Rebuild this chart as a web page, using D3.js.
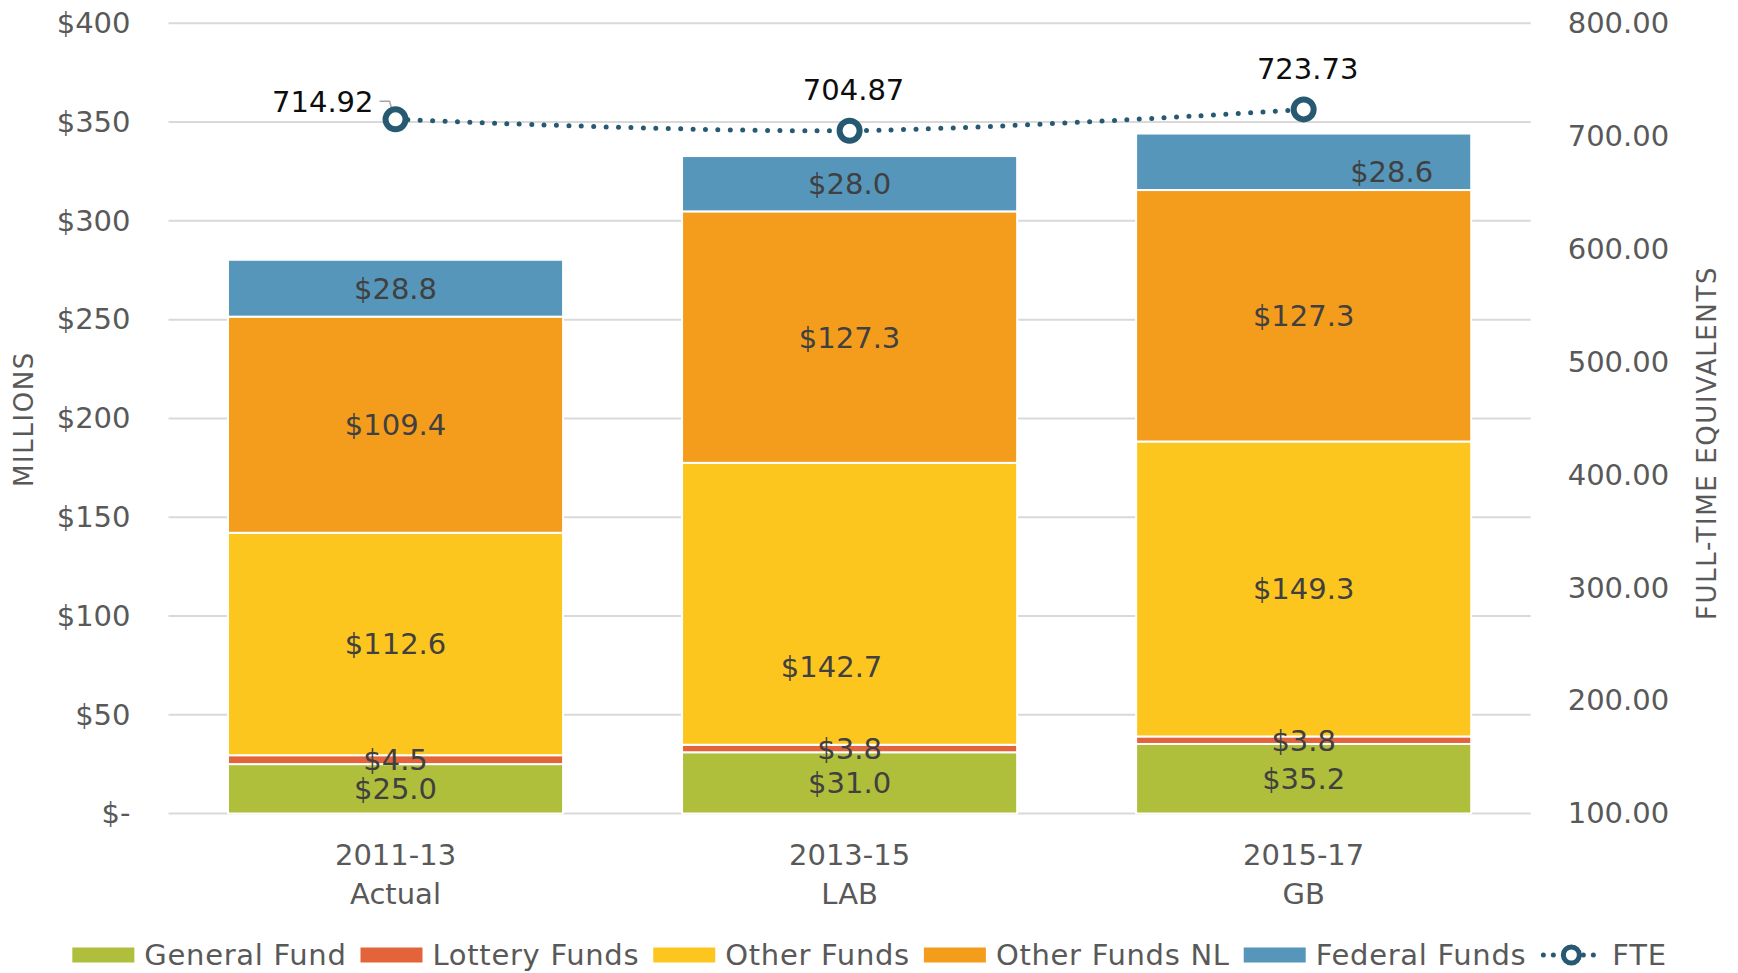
<!DOCTYPE html>
<html>
<head>
<meta charset="utf-8">
<script src="https://cdn.jsdelivr.net/npm/d3@7"></script>
<style>
  body { margin: 0; background: #fff; }
  svg { display: block; }
  text { font-family: "DejaVu Sans", sans-serif; }
</style>
</head>
<body>
<div id="chart"></div>
<script>
// data
const periods = ["2011-13", "2013-15", "2015-17"];
const periodNotes = ["Actual", "LAB", "GB"];
const fundNames = ["General Fund", "Lottery Funds", "Other Funds", "Other Funds NL", "Federal Funds"];
const generalFund = [25.0, 31.0, 35.2];
const lotteryFunds = [4.5, 3.8, 3.8];
const otherFunds = [112.6, 142.7, 149.3];
const otherFundsNL = [109.4, 127.3, 127.3];
const federalFunds = [28.8, 28.0, 28.6];
const fte = [714.92, 704.87, 723.73];
const dollarTicks = [0, 50, 100, 150, 200, 250, 300, 350, 400];
const fteTicks = [100, 200, 300, 400, 500, 600, 700, 800];

const width = 1738;
const height = 973;
const plot = {left: 168.5, right: 1530.7, top: 23.3, bottom: 813.5};
const fontSize = 29;

const colors = ["#afbe3b", "#e3643a", "#fdc61f", "#f49d1d", "#5596ba"];
const fteColor = "#275a72";
const labelColor = "#404040";
const tickColor = "#595959";

// a couple of data labels were dragged by hand in the original
const labelNudge = {
    "Other Funds|2013-15": [-18, 63],
    "Federal Funds|2015-17": [88, 10]
};

const rows = periods.map((p, i) => ({
    period: p,
    "General Fund": generalFund[i],
    "Lottery Funds": lotteryFunds[i],
    "Other Funds": otherFunds[i],
    "Other Funds NL": otherFundsNL[i],
    "Federal Funds": federalFunds[i]
}));

const svg = d3.select("#chart")
    .append("svg")
    .attr("width", width)
    .attr("height", height);

const xScale = d3.scaleBand().domain(periods).range([plot.left, plot.right]).paddingInner(0.262).paddingOuter(0.131);
const yScale = d3.scaleLinear().domain([0, 400]).range([plot.bottom, plot.top]);
const y2Scale = d3.scaleLinear().domain([100, 800]).range([plot.bottom, plot.top]);
const center = d => xScale(d) + xScale.bandwidth() / 2;

// gridlines
svg.append("g")
    .selectAll("line")
    .data(dollarTicks)
    .enter()
    .append("line")
    .attr("x1", plot.left)
    .attr("x2", plot.right)
    .attr("y1", d => yScale(d))
    .attr("y2", d => yScale(d))
    .attr("stroke", "#d9d9d9")
    .attr("stroke-width", 2);

// left axis
const leftAxis = svg.append("g")
    .attr("transform", "translate(" + (plot.left - 38) + ",0)")
    .call(d3.axisLeft(yScale).tickValues(dollarTicks).tickSize(0).tickPadding(0)
        .tickFormat(d => d === 0 ? "$-" : "$" + d));
leftAxis.select(".domain").remove();
leftAxis.selectAll("text").attr("font-size", fontSize).attr("fill", tickColor)
    .style("font-family", "DejaVu Sans");

// right axis
const rightAxis = svg.append("g")
    .attr("transform", "translate(" + (plot.right + 37) + ",0)")
    .call(d3.axisRight(y2Scale).tickValues(fteTicks).tickSize(0).tickPadding(0)
        .tickFormat(d3.format(".2f")));
rightAxis.select(".domain").remove();
rightAxis.selectAll("text").attr("font-size", fontSize).attr("fill", tickColor)
    .style("font-family", "DejaVu Sans");

// axis titles
svg.append("text")
    .attr("transform", "translate(24," + 419 + ") rotate(-90)")
    .attr("text-anchor", "middle")
    .attr("dy", "0.35em")
    .attr("font-size", 26)
    .attr("letter-spacing", 1.6)
    .attr("fill", tickColor)
    .text("MILLIONS");

svg.append("text")
    .attr("transform", "translate(1707," + 443 + ") rotate(-90)")
    .attr("text-anchor", "middle")
    .attr("dy", "0.35em")
    .attr("font-size", 26)
    .attr("letter-spacing", 1.6)
    .attr("fill", tickColor)
    .text("FULL-TIME EQUIVALENTS");

// stacked bars
const stacked = d3.stack().keys(fundNames)(rows);

const layers = svg.append("g")
    .selectAll("g")
    .data(stacked)
    .enter()
    .append("g")
    .attr("fill", (d, i) => colors[i]);

layers.selectAll("rect")
    .data(d => d)
    .enter()
    .append("rect")
    .attr("x", d => xScale(d.data.period))
    .attr("y", d => yScale(d[1]))
    .attr("width", xScale.bandwidth())
    .attr("height", d => yScale(d[0]) - yScale(d[1]))
    .attr("stroke", "white")
    .attr("stroke-width", 2);

// data labels
const labels = svg.append("g");
stacked.forEach(layer => {
    layer.forEach(d => {
        const nudge = labelNudge[layer.key + "|" + d.data.period] || [0, 0];
        labels.append("text")
            .attr("x", center(d.data.period) + nudge[0])
            .attr("y", yScale((d[0] + d[1]) / 2) + nudge[1])
            .attr("dy", "0.36em")
            .attr("text-anchor", "middle")
            .attr("font-size", fontSize)
            .attr("fill", labelColor)
            .text("$" + d3.format(".1f")(d.data[layer.key]));
    });
});

// category labels
const cats = svg.append("g");
periods.forEach((p, i) => {
    cats.append("text")
        .attr("x", center(p))
        .attr("y", 865)
        .attr("text-anchor", "middle")
        .attr("font-size", fontSize)
        .attr("fill", tickColor)
        .text(p);
    cats.append("text")
        .attr("x", center(p))
        .attr("y", 904)
        .attr("text-anchor", "middle")
        .attr("font-size", fontSize)
        .attr("fill", tickColor)
        .text(periodNotes[i]);
});

// FTE line
const ftePoints = periods.map((p, i) => [center(p), y2Scale(fte[i])]);

svg.append("path")
    .datum(ftePoints)
    .attr("d", d3.line().curve(d3.curveCatmullRom.alpha(0.5)))
    .attr("fill", "none")
    .attr("stroke", fteColor)
    .attr("stroke-width", 5)
    .attr("stroke-linecap", "round")
    .attr("stroke-dasharray", "0 12.4");

// leader line for the first label
svg.append("polyline")
    .attr("points", [[ftePoints[0][0] - 16, ftePoints[0][1] - 18], [ftePoints[0][0] - 6, ftePoints[0][1] - 18], [ftePoints[0][0] - 1, ftePoints[0][1] - 1]].join(" "))
    .attr("fill", "none")
    .attr("stroke", "#a6a6a6")
    .attr("stroke-width", 1.5);

svg.append("g")
    .selectAll("circle")
    .data(ftePoints)
    .enter()
    .append("circle")
    .attr("cx", d => d[0])
    .attr("cy", d => d[1])
    .attr("r", 10)
    .attr("fill", "white")
    .attr("stroke", fteColor)
    .attr("stroke-width", 6);

ftePoints.forEach((pt, i) => {
    const t = svg.append("text")
        .attr("font-size", fontSize)
        .attr("fill", "#0d0d0d")
        .text(d3.format(".2f")(fte[i]));
    if (i === 0) {
        t.attr("x", pt[0] - 22).attr("y", pt[1] - 18).attr("dy", "0.36em").attr("text-anchor", "end");
    } else {
        t.attr("x", pt[0] + 4).attr("y", pt[1] - 41).attr("dy", "0.36em").attr("text-anchor", "middle");
    }
});

// legend
const legend = svg.append("g");
let lx = 0;
const ly = 955;
const legendItems = fundNames.map((n, i) => ({name: n, color: colors[i], type: "bar"}));
legendItems.push({name: "FTE", color: fteColor, type: "line"});

legendItems.forEach(item => {
    const g = legend.append("g").attr("transform", "translate(" + lx + ",0)");
    if (item.type === "bar") {
        g.append("rect")
            .attr("x", 0)
            .attr("y", ly - 7.5)
            .attr("width", 62)
            .attr("height", 15)
            .attr("fill", item.color);
    } else {
        g.append("line")
            .attr("x1", 3).attr("x2", 56)
            .attr("y1", ly).attr("y2", ly)
            .attr("stroke", item.color)
            .attr("stroke-width", 5)
            .attr("stroke-linecap", "round")
            .attr("stroke-dasharray", "0 10");
        g.append("circle")
            .attr("cx", 31).attr("cy", ly).attr("r", 8)
            .attr("fill", "white")
            .attr("stroke", item.color)
            .attr("stroke-width", 5);
    }
    const t = g.append("text")
        .attr("x", 72)
        .attr("y", ly)
        .attr("dy", "0.36em")
        .attr("font-size", fontSize)
        .attr("letter-spacing", 0.7)
        .attr("fill", tickColor)
        .text(item.name);
    lx += 72 + t.node().getComputedTextLength() + 14;
});
lx -= 14;
legend.attr("transform", "translate(" + (869.5 - lx / 2) + ",0)");
</script>
</body>
</html>
